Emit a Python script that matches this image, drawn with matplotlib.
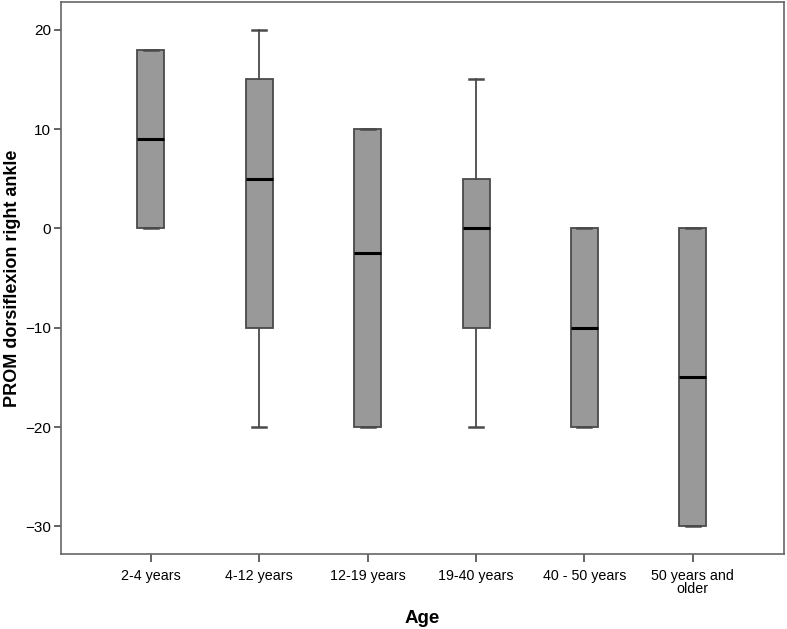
import matplotlib
matplotlib.use("Agg")
import matplotlib.pyplot as plt

plt.rcParams['font.family'] = ['Liberation Sans', 'DejaVu Sans']

# age groups and box statistics
groups = ['2-4 years', '4-12 years', '12-19 years', '19-40 years', '40 - 50 years', '50 years and\nolder']
whisker_low = [0, -20, -20, -20, -20, -30]
q1 = [0, -10, -20, -10, -20, -30]
medians = [9, 5, -2.5, 0, -10, -15]
q3 = [18, 15, 10, 5, 0, 0]
whisker_high = [18, 20, 10, 15, 0, 0]

stats = []
for i in range(len(groups)):
    stats.append({'whislo': whisker_low[i], 'q1': q1[i], 'med': medians[i],
                  'q3': q3[i], 'whishi': whisker_high[i], 'fliers': []})

fig = plt.figure(figsize=(7.87, 6.29), dpi=100)
ax = fig.add_axes([0.0775, 0.119, 0.9185, 0.878])

positions = list(range(1, len(groups) + 1))
edge = '#4a4a4a'
ax.bxp(stats, positions=positions, widths=0.25, patch_artist=True, showfliers=False,
       boxprops=dict(facecolor='#999999', edgecolor=edge, linewidth=1.3),
       medianprops=dict(color='black', linewidth=2.2),
       whiskerprops=dict(color=edge, linewidth=1.3),
       capprops=dict(color=edge, linewidth=1.8),
       capwidths=0.13)

ax.set_xlim(0.17, 6.84)
ax.set_ylim(-32.8, 22.8)
ax.set_yticks([20, 10, 0, -10, -20, -30])
ax.set_xticks(positions)
ax.set_xticklabels(groups, fontsize=10.3, linespacing=0.85)
ax.tick_params(axis='y', labelsize=11, length=5, width=1.2, color=edge, pad=2)
ax.tick_params(axis='x', length=6, width=1.2, color=edge, pad=5)
for s in ax.spines.values():
    s.set_color('#666666')
    s.set_linewidth(1.2)

ax.set_ylabel('PROM dorsiflexion right ankle', fontsize=13, fontweight='bold', labelpad=3)
ax.set_xlabel('Age', fontsize=13.5, fontweight='bold', labelpad=10)

fig.savefig('out.png', dpi=100)
